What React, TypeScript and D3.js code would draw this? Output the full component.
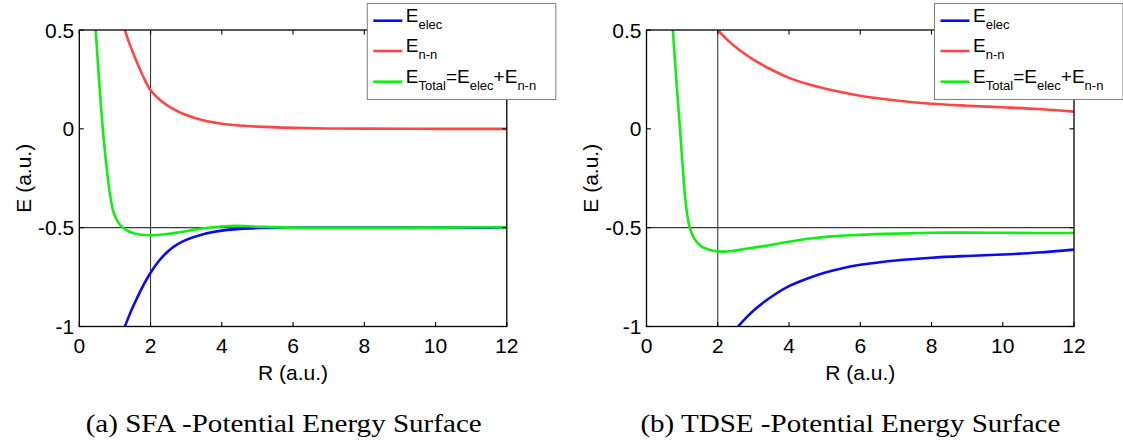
import React from "react";
import * as d3 from "d3";

// ---------- data ----------
const xTicks = [0, 2, 4, 6, 8, 10, 12];
const yTicks = [-1, -0.5, 0, 0.5];
const yTickLabels = ["-1", "-0.5", "0", "0.5"];

// (a) SFA
const sfaElec: [number, number][] = [
  [1.2, -1.04], [1.28, -1.0], [1.4, -0.945], [1.5, -0.903], [1.75, -0.808], [2, -0.728],
  [2.25, -0.665], [2.5, -0.618], [2.75, -0.585], [3, -0.562], [3.5, -0.532], [4, -0.515],
  [4.5, -0.506], [5, -0.502], [6, -0.5], [8, -0.5], [10, -0.5], [12, -0.5],
];
const sfaNN: [number, number][] = [
  [1.2, 0.55], [1.28, 0.5], [1.4, 0.435], [1.6, 0.345], [1.8, 0.262], [2, 0.195], [2.25, 0.148],
  [2.5, 0.115], [2.75, 0.09], [3, 0.07], [3.5, 0.042], [4, 0.026], [4.5, 0.017], [5, 0.011],
  [6, 0.005], [7, 0.002], [8, 0.001], [10, 0], [12, 0],
];
const sfaTotal: [number, number][] = [
  [0.4, 0.68], [0.46, 0.5], [0.55, 0.26], [0.66, 0.0], [0.77, -0.2], [0.87, -0.34], [0.95, -0.415],
  [1.05, -0.46], [1.15, -0.487], [1.28, -0.507], [1.5, -0.527], [1.75, -0.536], [2, -0.538],
  [2.4, -0.533], [2.75, -0.525], [3.1, -0.514], [3.5, -0.503], [4, -0.494], [4.4, -0.491],
  [5, -0.495], [6, -0.5], [8, -0.501], [10, -0.5], [11.5, -0.498], [12, -0.5],
];

// (b) TDSE
const tdseElec: [number, number][] = [
  [2.5, -1.015], [2.57, -1.0], [2.8, -0.955], [3, -0.92], [3.3, -0.876], [3.6, -0.838],
  [4, -0.796], [4.5, -0.758], [5, -0.728], [5.5, -0.705], [6, -0.688], [7, -0.666],
  [8, -0.652], [9, -0.643], [10, -0.636], [11, -0.626], [12, -0.611],
];
const tdseNN: [number, number][] = [
  [2, 0.5], [2.3, 0.445], [2.6, 0.4], [3, 0.35], [3.5, 0.3], [4, 0.258], [4.5, 0.228],
  [5, 0.204], [6, 0.167], [7, 0.143], [8, 0.127], [9, 0.117], [10, 0.109], [11, 0.1],
  [12, 0.087],
];
const tdseTotal: [number, number][] = [
  [0.7, 0.62], [0.74, 0.5], [0.84, 0.24], [0.94, 0.0], [1.02, -0.2], [1.08, -0.34], [1.14, -0.43],
  [1.2, -0.49], [1.27, -0.53], [1.36, -0.56], [1.45, -0.58], [1.55, -0.596], [1.78, -0.613],
  [2.1, -0.621], [2.4, -0.618], [2.8, -0.607], [3.4, -0.59], [4, -0.571], [4.6, -0.555],
  [5.2, -0.544], [6, -0.536], [7, -0.53], [8, -0.526], [9, -0.525], [10, -0.526], [11, -0.527],
  [12, -0.527],
];

const refR = 2;
const refE = -0.5;

const colors = { elec: "#0a0af0", nn: "#ff4545", total: "#12ee12" };

const SANS = "'Liberation Sans', Arial, Helvetica, sans-serif";
const SERIF = "'Liberation Serif', 'Times New Roman', serif";

type PanelProps = {
  id: string;
  x0: number;
  x1: number;
  elec: [number, number][];
  nn: [number, number][];
  total: [number, number][];
  caption: string;
  captionX: number;
  captionLen: number;
};

const TOP = 30;
const BOTTOM = 326.5;

function Panel({ id, x0, x1, elec, nn, total, caption, captionX, captionLen }: PanelProps) {
  const x = d3.scaleLinear().domain([0, 12]).range([x0, x1]);
  const y = d3.scaleLinear().domain([-1, 0.5]).range([BOTTOM, TOP]);
  const line = d3
    .line<[number, number]>()
    .x((d) => x(d[0]))
    .y((d) => y(d[1]))
    .curve(d3.curveCatmullRom.alpha(0.5));
  const tl = 4.5;
  const lgX = x0 + 288;
  const lgY = 3.5;
  const lgW = 188.5;
  const lgH = 96;
  const rows = [20.7, 51, 81.7];
  const F = 19;
  const f = 13;
  const sub = 7;
  const midX = (x0 + x1) / 2;
  const midY = (TOP + BOTTOM) / 2;
  return (
    <g>
      <defs>
        <clipPath id={id}>
          <rect x={x0} y={TOP} width={x1 - x0} height={BOTTOM - TOP} />
        </clipPath>
      </defs>
      {/* reference lines */}
      <line x1={x0} x2={x1} y1={y(refE)} y2={y(refE)} stroke="#3a3a3a" strokeWidth={1.1} />
      <line x1={x(refR)} x2={x(refR)} y1={TOP} y2={BOTTOM} stroke="#3a3a3a" strokeWidth={1.1} />
      {/* curves */}
      <g clipPath={`url(#${id})`} fill="none" strokeWidth={2.6} strokeLinejoin="round">
        <path d={line(elec) || ""} stroke={colors.elec} />
        <path d={line(nn) || ""} stroke={colors.nn} />
        <path d={line(total) || ""} stroke={colors.total} />
      </g>
      {/* box */}
      <rect x={x0} y={TOP} width={x1 - x0} height={BOTTOM - TOP} fill="none" stroke="#000" strokeWidth={1.3} />
      {/* ticks */}
      {xTicks.map((t) => (
        <g key={"xt" + t}>
          <line x1={x(t)} x2={x(t)} y1={BOTTOM} y2={BOTTOM - tl} stroke="#000" strokeWidth={1.1} />
          <line x1={x(t)} x2={x(t)} y1={TOP} y2={TOP + tl} stroke="#000" strokeWidth={1.1} />
          <text x={x(t)} y={352.5} textAnchor="middle" fontFamily={SANS} fontSize={21}>
            {t}
          </text>
        </g>
      ))}
      {yTicks.map((t, i) => (
        <g key={"yt" + t}>
          <line x1={x0} x2={x0 + tl} y1={y(t)} y2={y(t)} stroke="#000" strokeWidth={1.1} />
          <line x1={x1} x2={x1 - tl} y1={y(t)} y2={y(t)} stroke="#000" strokeWidth={1.1} />
          <text x={x0 - 5} y={y(t)} dy="0.36em" textAnchor="end" fontFamily={SANS} fontSize={21}>
            {yTickLabels[i]}
          </text>
        </g>
      ))}
      {/* axis labels */}
      <text x={midX} y={379.5} textAnchor="middle" fontFamily={SANS} fontSize={21}>
        R (a.u.)
      </text>
      <text
        transform={`translate(${x0 - 56},${midY}) rotate(-90)`}
        textAnchor="middle"
        dy="0.36em"
        fontFamily={SANS}
        fontSize={21}
      >
        E (a.u.)
      </text>
      {/* legend */}
      <rect x={lgX} y={lgY} width={lgW} height={lgH} fill="#fff" stroke="#7f7f7f" strokeWidth={1} />
      {[colors.elec, colors.nn, colors.total].map((c, i) => (
        <line key={"lg" + i} x1={lgX + 6} x2={lgX + 35} y1={rows[i]} y2={rows[i]} stroke={c} strokeWidth={2.6} />
      ))}
      <text x={lgX + 38.5} y={rows[0] + 1} fontFamily={SANS} fontSize={F}>
        E<tspan fontSize={f} dy={sub}>elec</tspan>
      </text>
      <text x={lgX + 38.5} y={rows[1] + 1} fontFamily={SANS} fontSize={F}>
        E<tspan fontSize={f} dy={sub}>n-n</tspan>
      </text>
      <text x={lgX + 38.5} y={rows[2] + 1} fontFamily={SANS} fontSize={F}>
        E<tspan fontSize={f} dy={sub}>Total</tspan>
        <tspan dy={-sub}>=E</tspan>
        <tspan fontSize={f} dy={sub}>elec</tspan>
        <tspan dy={-sub}>+E</tspan>
        <tspan fontSize={f} dy={sub}>n-n</tspan>
      </text>
      {/* caption */}
      <text
        x={captionX}
        y={431.5}
        fontFamily={SERIF}
        fontSize={25}
        textLength={captionLen}
        lengthAdjust="spacingAndGlyphs"
      >
        {caption}
      </text>
    </g>
  );
}

export default function App() {
  return (
    <svg
      width={1123}
      height={448}
      viewBox="0 0 1123 448"
      style={{ position: "absolute", left: 0, top: 0, background: "#fff" }}
    >
      <rect x={0} y={0} width={1123} height={448} fill="#fff" />
      <Panel
        id="clipA"
        x0={79.3}
        x1={506.8}
        elec={sfaElec}
        nn={sfaNN}
        total={sfaTotal}
        caption="(a) SFA -Potential Energy Surface"
        captionX={85.7}
        captionLen={396}
      />
      <Panel
        id="clipB"
        x0={646.5}
        x1={1074}
        elec={tdseElec}
        nn={tdseNN}
        total={tdseTotal}
        caption="(b) TDSE -Potential Energy Surface"
        captionX={640.4}
        captionLen={420}
      />
    </svg>
  );
}
